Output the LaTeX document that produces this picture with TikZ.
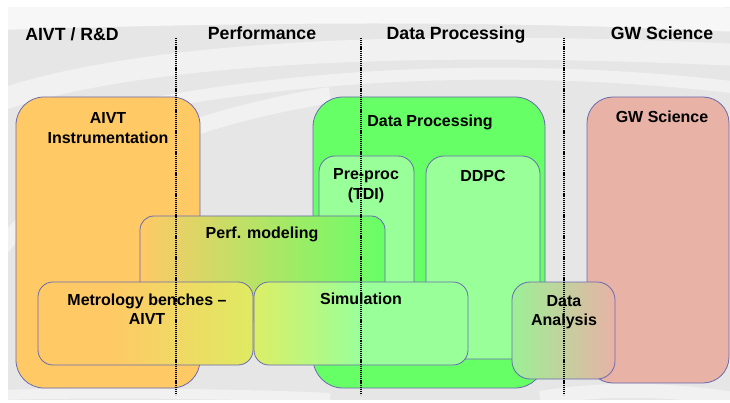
\documentclass[tikz,border=0pt]{standalone}
\usepackage{fontspec}
\setmainfont{Liberation Sans}
\definecolor{boxline}{HTML}{6A6AB0}
\definecolor{orng}{HTML}{FFC966}
\definecolor{grn}{HTML}{66FF66}
\definecolor{lgrn}{HTML}{99FF99}
\definecolor{pnk}{HTML}{E8B2A6}
\definecolor{ylw}{HTML}{DFEA62}
\definecolor{ygrn}{HTML}{DCEE66}
\definecolor{agrn}{HTML}{9CF096}
\definecolor{bg}{HTML}{E6E6E6}
\pgfdeclarehorizontalshading{metroshade}{100bp}{color(0bp)=(orng); color(25bp)=(orng); color(42bp)=(orng); color(75bp)=(ylw); color(100bp)=(ylw)}
\pgfdeclarehorizontalshading{simshade}{100bp}{color(0bp)=(ygrn); color(25bp)=(ygrn); color(50bp)=(lgrn); color(75bp)=(lgrn); color(100bp)=(lgrn)}
\pgfdeclarehorizontalshading{perfshade}{100bp}{color(0bp)=(orng); color(25bp)=(orng); color(75bp)=(grn); color(100bp)=(grn)}
\begin{document}
\begin{tikzpicture}[x=1pt,y=-1pt,
  box/.style={draw=boxline, line width=0.8pt},
  lbl/.style={font=\fontsize{16}{19}\selectfont\bfseries, anchor=base, inner sep=0pt},
  hdr/.style={font=\fontsize{17.7}{20}\selectfont\bfseries, anchor=base, inner sep=0pt},
  swirl/.style={white, opacity=.45},
  sepline/.style={line width=1.8pt, dash pattern=on 1.2pt off 0.9pt, black}]
\useasboundingbox (0,0) rectangle (730,403);
\fill[white] (0,0) rectangle (730,403);
% background with swirls
\begin{scope}
\clip (8,7) rectangle (730,400);
\fill[bg] (8,7) rectangle (730,400);
\draw[swirl, line width=22pt] (0,100) .. controls (150,50) and (420,40) .. (740,55);
\draw[swirl, line width=12pt] (110,112) .. controls (300,72) and (520,62) .. (740,88);
\draw[swirl, line width=16pt] (0,250) .. controls (60,170) and (180,120) .. (330,95);
\draw[swirl, line width=24pt, opacity=.7] (0,18) .. controls (250,10) and (500,8) .. (740,20);
\draw[swirl, line width=14pt] (540,398) .. controls (620,385) and (690,392) .. (740,400);
\draw[swirl, line width=10pt] (0,395) .. controls (100,392) and (250,394) .. (330,398);
\end{scope}
% big boxes
\path[box, fill=orng, rounded corners=28pt] (16,97) rectangle (200,388);
\path[box, fill=grn, rounded corners=30pt] (313,97) rectangle (545,388);
\path[box, fill=lgrn, rounded corners=16pt] (319,156) rectangle (414,320);
\path[box, fill=lgrn, rounded corners=18pt] (426,156) rectangle (540,359);
\path[box, fill=pnk, rounded corners=26pt] (587,97) rectangle (729,383);
% overlapping boxes
\path[box, shading=perfshade, rounded corners=14pt] (140,216) rectangle (385,320);
\path[box, shading=metroshade, rounded corners=15pt] (38,282) rectangle (253,365);
\path[box, shading=simshade, rounded corners=15pt] (254,282) rectangle (468,365);
\path[box, left color=agrn, right color=pnk, rounded corners=18pt] (512,282) rectangle (615,379);
% headers
\node[hdr] (h1) at (72,40.5) {AIVT / R\&D};
\node[hdr] (h2) at (262,40) {Performance};
\node[hdr] (h3) at (456,39.5) {Data Processing};
\node[hdr] (h4) at (662,39.5) {GW Science};
% labels
\node[lbl] (a1) at (108,124) {AIVT};
\node[lbl] (a2) at (108,144) {Instrumentation};
\node[lbl] (dp) at (430,127) {Data Processing};
\node[lbl] (pp1) at (366,180) {Pre-proc};
\node[lbl] (pp2) at (366,200) {(TDI)};
\node[lbl] (dd) at (483,182) {DDPC};
\node[lbl] (gw) at (662,122.5) {GW Science};
\node[lbl] (pm) at (262,238) {Perf. modeling};
\node[lbl] (m1) at (147,305) {Metrology benches –};
\node[lbl] (m2) at (147,324) {AIVT};
\node[lbl] (si) at (361,304) {Simulation};
\node[lbl] (da1) at (564,306) {Data};
\node[lbl] (da2) at (564,325) {Analysis};
% separators
\coordinate (s1t) at (176,38); \coordinate (s1b) at (176,395);
\coordinate (s2t) at (361,38); \coordinate (s2b) at (361,395);
\coordinate (s3t) at (564,38); \coordinate (s3b) at (564,395);
\draw[sepline] (s1t) -- (s1b);
\draw[sepline] (s2t) -- (s2b);
\draw[sepline] (s3t) -- (s3b);
\end{tikzpicture}
\end{document}
